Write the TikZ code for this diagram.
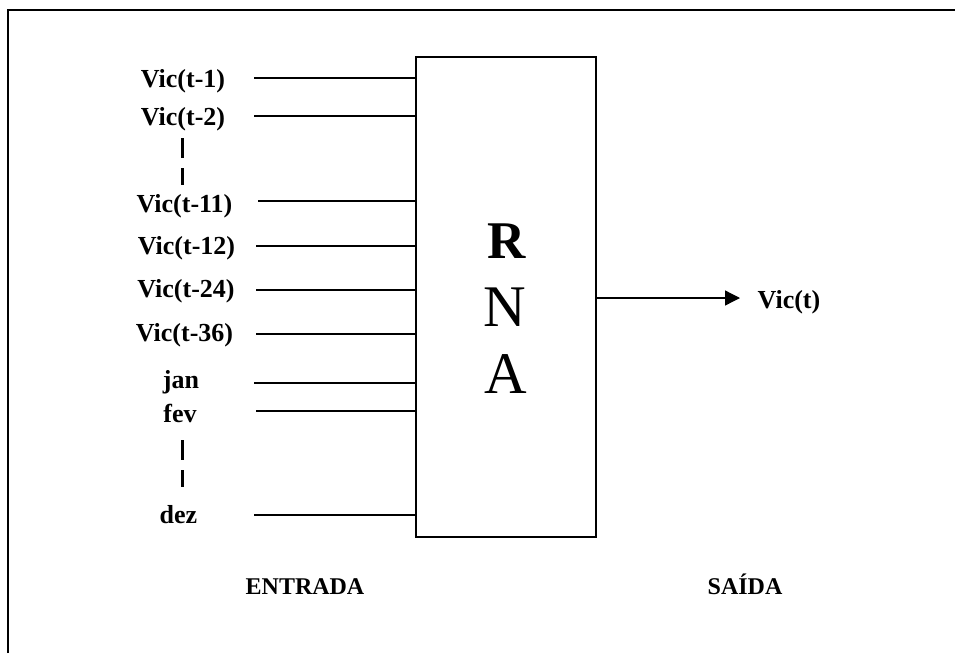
\documentclass[tikz,border=0pt]{standalone}
\usepackage{fontspec}
\setmainfont{Liberation Serif}
\usetikzlibrary{arrows.meta}
\tikzset{
    lbl/.style={font=\fontsize{26}{30}\selectfont\bfseries, anchor=base, inner sep=0pt},
    legenda/.style={font=\fontsize{24}{28}\selectfont\bfseries, anchor=base, inner sep=0pt},
    wire/.style={line width=1.3pt},
    vdots/.style={line width=2.6pt},
}
\begin{document}
\begin{tikzpicture}[x=1pt,y=-1pt]
\useasboundingbox (0,0) rectangle (955,653);
% moldura
\draw[line width=2pt] (8,653) -- (8,10) -- (955,10);
% rede
\node[draw, line width=1.6pt, minimum width=180pt, minimum height=480pt, inner sep=0pt] (rna) at (506,297) {};
\node[anchor=base, inner sep=0pt, font=\fontsize{53}{60}\selectfont\bfseries] (letR) at (507,258) {R};
\node[anchor=base, inner sep=0pt, font=\fontsize{59}{66}\selectfont] (letN) at (505,326) {N};
\node[anchor=base, inner sep=0pt, font=\fontsize{59}{66}\selectfont] (letA) at (506,393) {A};
% entradas
\foreach \n/\t/\lx/\ly/\sx/\sy in {
    1/Vic(t-1)/183/87/254/78,
    2/Vic(t-2)/183/125/254/116,
    11/Vic(t-11)/184.5/212/258/201,
    12/Vic(t-12)/186.5/254/256/246,
    24/Vic(t-24)/186/297/256/290,
    36/Vic(t-36)/184.5/341/256/334,
    jan/jan/181/388/254/383,
    fev/fev/180/422/256/411,
    dez/dez/178.5/523/254/515} {
    \node[lbl] (in\n) at (\lx,\ly) {\t};
    \coordinate (s\n) at (\sx,\sy);
    \draw[wire] (s\n) -- (s\n -| rna.west);
}
% reticencias
\foreach \y/\l in {138/20, 168/17, 440/20, 470/17}
    \draw[vdots] (182.5,\y) -- ++(0,\l);
% saida
\node[lbl] (out) at (789,308) {Vic(t)};
\coordinate (tip) at (740,298);
\draw[wire, -{Triangle[length=15pt,width=15pt]}] (rna.east |- tip) -- (tip);
% legendas
\node[legenda] (entrada) at (305,594) {ENTRADA};
\node[legenda] (saida) at (745,594) {SAÍDA};
\end{tikzpicture}
\end{document}
